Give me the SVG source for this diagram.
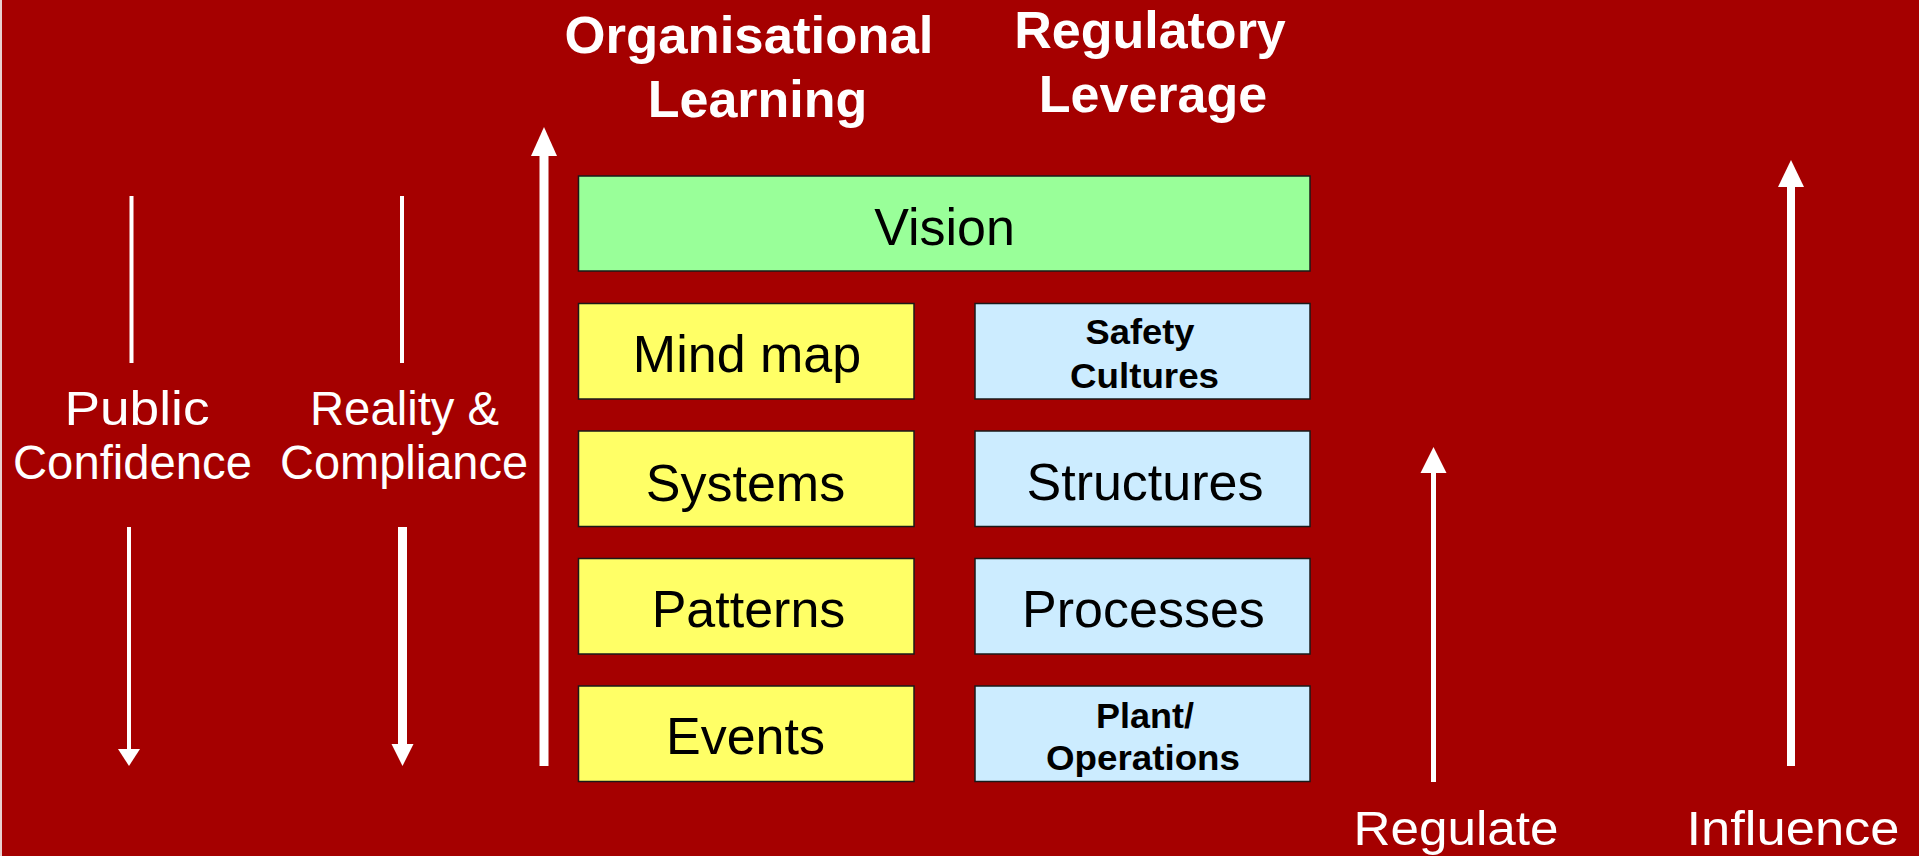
<svg xmlns="http://www.w3.org/2000/svg" width="1919" height="856" viewBox="0 0 1919 856">
  <style>
    .bg { fill: #A50000; }
    .box { stroke: #1a1a1a; stroke-width: 1.5; }
    .green { fill: #99FF99; }
    .yellow { fill: #FFFF66; }
    .blue { fill: #CCECFF; }
    .t { font-family: "Liberation Sans", Arial, sans-serif; text-anchor: middle; }
    .title { font-size: 52px; font-weight: bold; fill: #FFFFFF; }
    .wlab { font-size: 48px; fill: #FFFFFF; }
    .big { font-size: 52px; fill: #000000; }
    .small { font-size: 35px; font-weight: bold; fill: #000000; }
    .ln { stroke: #FFFFFF; fill: none; }
    .hd { fill: #FFFFFF; }
  </style>
  <rect class="bg" x="0" y="0" width="1919" height="856"/>
  <rect x="0" y="0" width="2" height="856" fill="#E8D0D0"/>

  <g id="titles">
    <text class="t title" x="749" y="53" textLength="369" lengthAdjust="spacingAndGlyphs">Organisational</text>
    <text class="t title" x="757.5" y="117">Learning</text>
    <text class="t title" x="1150" y="48">Regulatory</text>
    <text class="t title" x="1153" y="112">Leverage</text>
  </g>

  <g id="connectors">
    <line class="ln" x1="544" y1="153" x2="544" y2="766" stroke-width="9"/>
    <polygon class="hd" points="531,156 557,156 544,127"/>
    <line class="ln" x1="131.5" y1="196" x2="131.5" y2="363" stroke-width="4"/>
    <line class="ln" x1="402" y1="196" x2="402" y2="363" stroke-width="4"/>
    <line class="ln" x1="129" y1="527" x2="129" y2="751" stroke-width="4"/>
    <polygon class="hd" points="118,749 140,749 129,766"/>
    <line class="ln" x1="402.5" y1="527" x2="402.5" y2="746" stroke-width="9"/>
    <polygon class="hd" points="391.5,744 413.5,744 402.5,766"/>
    <line class="ln" x1="1433.5" y1="471" x2="1433.5" y2="782" stroke-width="5"/>
    <polygon class="hd" points="1420.5,473 1446.5,473 1433.5,447"/>
    <line class="ln" x1="1791" y1="185" x2="1791" y2="766" stroke-width="8"/>
    <polygon class="hd" points="1778,187 1804,187 1791,160"/>
  </g>

  <g id="side-labels">
    <text class="t wlab" x="137" y="425" textLength="145" lengthAdjust="spacingAndGlyphs">Public</text>
    <text class="t wlab" x="132.5" y="479" textLength="239" lengthAdjust="spacingAndGlyphs">Confidence</text>
    <text class="t wlab" x="404.5" y="425" textLength="189" lengthAdjust="spacingAndGlyphs">Reality &amp;</text>
    <text class="t wlab" x="404" y="479" textLength="248" lengthAdjust="spacingAndGlyphs">Compliance</text>
    <text class="t wlab" x="1456" y="845" textLength="205" lengthAdjust="spacingAndGlyphs">Regulate</text>
    <text class="t wlab" x="1793" y="845" textLength="213" lengthAdjust="spacingAndGlyphs">Influence</text>
  </g>

  <g id="vision">
    <rect class="box green" x="578.5" y="176" width="731.5" height="95"/>
    <text class="t big" x="944.5" y="245">Vision</text>
  </g>
  <g id="mind-map">
    <rect class="box yellow" x="578.5" y="303.5" width="335.5" height="95.5"/>
    <text class="t big" x="747" y="372">Mind map</text>
  </g>
  <g id="systems">
    <rect class="box yellow" x="578.5" y="431" width="335.5" height="95.5"/>
    <text class="t big" x="745.5" y="500.5">Systems</text>
  </g>
  <g id="patterns">
    <rect class="box yellow" x="578.5" y="558.5" width="335.5" height="95.5"/>
    <text class="t big" x="748.5" y="626.5">Patterns</text>
  </g>
  <g id="events">
    <rect class="box yellow" x="578.5" y="686" width="335.5" height="95.5"/>
    <text class="t big" x="745.5" y="754">Events</text>
  </g>
  <g id="safety-cultures">
    <rect class="box blue" x="975" y="303.5" width="335" height="95.5"/>
    <text class="t small" x="1140" y="344" textLength="109" lengthAdjust="spacingAndGlyphs">Safety</text>
    <text class="t small" x="1144.5" y="388" textLength="149" lengthAdjust="spacingAndGlyphs">Cultures</text>
  </g>
  <g id="structures">
    <rect class="box blue" x="975" y="431" width="335" height="95.5"/>
    <text class="t big" x="1145" y="500">Structures</text>
  </g>
  <g id="processes">
    <rect class="box blue" x="975" y="558.5" width="335" height="95.5"/>
    <text class="t big" x="1143.5" y="626.5">Processes</text>
  </g>
  <g id="plant-operations">
    <rect class="box blue" x="975" y="686" width="335" height="95.5"/>
    <text class="t small" x="1145" y="727.5" textLength="98" lengthAdjust="spacingAndGlyphs">Plant/</text>
    <text class="t small" x="1143" y="770" textLength="194" lengthAdjust="spacingAndGlyphs">Operations</text>
  </g>
</svg>
